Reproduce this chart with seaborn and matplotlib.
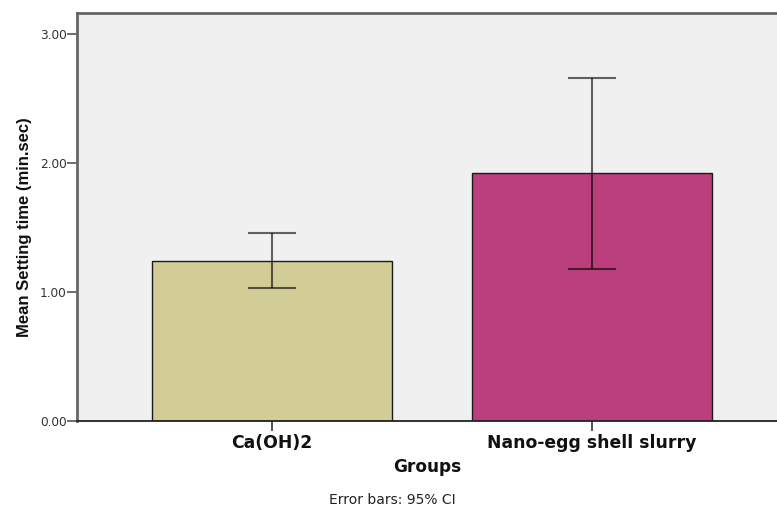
import matplotlib
matplotlib.use("Agg")
import matplotlib.pyplot as plt
import seaborn as sns
import pandas as pd
import numpy as np

# Mean setting time per group with 95% CI bounds
groups = ["Ca(OH)2", "Nano-egg shell slurry"]
mean_time = [1.24, 1.92]
ci_lower = [1.03, 1.18]
ci_upper = [1.46, 2.66]
bar_colors = ["#D2CD97", "#BA3F7C"]
y_ticks = [0.0, 1.0, 2.0, 3.0]

sns.set_theme(style="white")
plt.rcParams["font.family"] = ["DejaVu Sans"]

df = pd.DataFrame({"Groups": groups, "Mean": mean_time})

fig = plt.figure(figsize=(7.77, 5.08), dpi=100)
ax = fig.add_axes([77 / 777, 87 / 508, 1 - 77 / 777, 408 / 508])
ax.set_facecolor("#F0F0F0")

sns.barplot(data=df, x="Groups", y="Mean", hue="Groups", palette=bar_colors,
            saturation=1, width=0.75, edgecolor="#1a1a1a", linewidth=1.0,
            errorbar=None, legend=False, ax=ax, zorder=2)

xs = np.arange(len(groups))
means = np.array(mean_time)
yerr = [means - np.array(ci_lower), np.array(ci_upper) - means]
ax.errorbar(xs, means, yerr=yerr, fmt="none", ecolor="black", alpha=0.6,
            elinewidth=1.5, capsize=17, capthick=1.5, zorder=3)

ax.set_xlim(-0.609, 1.578)
ax.set_ylim(0, 3.163)
ax.set_yticks(y_ticks)
ax.set_yticklabels([f"{v:.2f}" for v in y_ticks], fontsize=8.7, color="#333333")
ax.set_xticks(xs)
ax.set_xticklabels(groups, fontsize=12.4, fontweight="bold", color="#111111")

ax.tick_params(axis="y", which="both", left=True, length=7, width=1.2,
               color="#555555", pad=0.5)
ax.tick_params(axis="x", which="both", bottom=True, length=7, width=1.2,
               color="#333333", pad=2)

for side in ["left", "top"]:
    ax.spines[side].set_color("#666666")
    ax.spines[side].set_linewidth(2)
ax.spines["bottom"].set_color("#222222")
ax.spines["bottom"].set_linewidth(1.3)
ax.spines["right"].set_visible(False)

ax.set_ylabel("Mean Setting time (min.sec)", fontsize=12, fontweight="bold",
              family=["Liberation Sans", "DejaVu Sans"], color="#111111")
ax.yaxis.set_label_coords((32 - 77) / 700, (421 - 227.5) / 408)
ax.set_xlabel("Groups", fontsize=12.2, fontweight="bold", labelpad=5,
              color="#111111")

fig.text(392 / 777, 1 - 500 / 508, "Error bars: 95% CI", ha="center",
         va="center", fontsize=10, color="#222222")

fig.savefig("out.png", dpi=100)
